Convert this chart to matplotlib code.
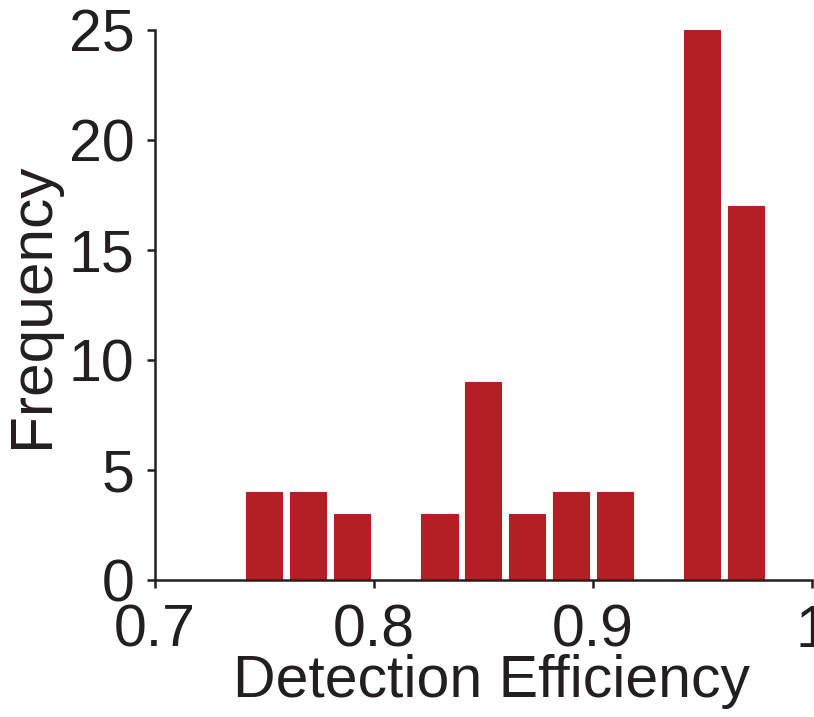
import matplotlib.pyplot as plt
import numpy as np

plt.rcParams['font.family'] = ['Liberation Sans', 'DejaVu Sans']

# histogram bins (centres) and counts
bin_centres = [0.75, 0.77, 0.79, 0.81, 0.83, 0.85, 0.87, 0.89, 0.91, 0.93, 0.95, 0.97, 0.99]
counts = [4, 4, 3, 0, 3, 9, 3, 4, 4, 0, 25, 17, 0]
x_ticks = [0.7, 0.8, 0.9, 1.0]
x_tick_labels = ["0.7", "0.8", "0.9", "1"]
y_ticks = [0, 5, 10, 15, 20, 25]

bar_color = "#B31F24"
ink = "#231F20"

fig = plt.figure(figsize=(8.14, 7.17), dpi=100)
ax = fig.add_axes([0.190, 0.191, 0.8075, 0.767])

ax.bar(bin_centres, counts, width=0.0165, color=bar_color,
       edgecolor=bar_color, linewidth=0.8, zorder=2)

ax.set_xlim(0.7, 1.0)
ax.set_ylim(0, 25)
ax.set_xticks(x_ticks)
ax.set_xticklabels(x_tick_labels)
ax.set_yticks(y_ticks)

for s in ["top", "right"]:
    ax.spines[s].set_visible(False)
for s in ["left", "bottom"]:
    ax.spines[s].set_linewidth(1.8)
    ax.spines[s].set_color(ink)
    ax.spines[s].set_zorder(3)

ax.tick_params(axis="both", direction="out", length=6, width=1.8,
               colors=ink, labelsize=42.5)
ax.tick_params(axis="x", pad=11)
ax.tick_params(axis="y", pad=8.5)

ax.set_xlabel("Detection Efficiency", fontsize=42.5, color=ink)
ax.xaxis.set_label_coords(0.512, -0.135)
ax.set_ylabel("Frequency", fontsize=43.5, color=ink, labelpad=6)

fig.savefig("out.png", dpi=100)
